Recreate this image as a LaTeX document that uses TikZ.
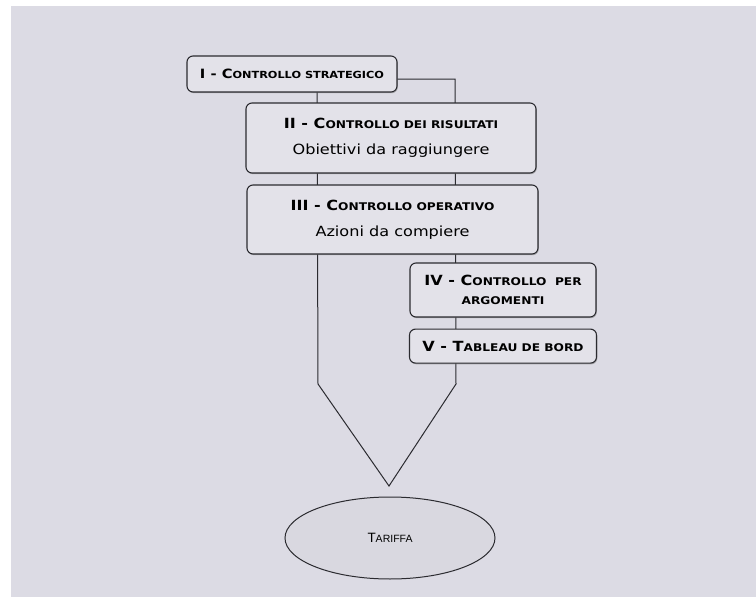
\documentclass[tikz,border=0pt]{standalone}
\usepackage{fontspec}
\setmainfont{DejaVu Sans}[FakeStretch=1.15]
\newfontfamily\arialfont{Liberation Sans}
\usetikzlibrary{positioning,shapes.geometric,shadows}
\definecolor{scanbg}{HTML}{DCDBE4}
\definecolor{boxbg}{HTML}{E3E2E9}
\definecolor{ovalbg}{HTML}{D9D8E0}
\definecolor{edgecol}{HTML}{2B2B30}
\newcommand{\sck}[1]{{\fontsize{10.6}{12}\selectfont #1}}
\newcommand{\scks}[1]{{\fontsize{9.8}{12}\selectfont #1}}

\begin{document}
\begin{tikzpicture}[x=1pt, y=-1pt, node distance=11pt]
        \tikzset{LevelStyle/.style = {draw=edgecol,
            line width = 1.1pt,
            rounded corners = 6pt,
            fill  = boxbg,
            align = center,
            inner sep = 0pt,
            font  = \fontsize{14}{19}\selectfont,
            drop shadow = {shadow xshift=0.8pt, shadow yshift=-1.2pt, opacity=0.55}}}
        \tikzset{PairStyle/.style = {LevelStyle,
            font  = \fontsize{14}{26}\selectfont}}
        \fill[white] (0,0) rectangle (756,597);
        \fill[scanbg] (11,6) rectangle (756,597);
        \useasboundingbox (0,0) rectangle (756,597);
        \coordinate (TL) at (317,79);
        \coordinate (TR) at (455,79);
        \coordinate (SR) at (456,384);
        \coordinate (TIP) at (389,486);
        \coordinate (SL) at (318,384);
        \draw[edgecol, line width=1pt, fill=scanbg] (TL) -- (TR) -- (SR) -- (TIP) -- (SL) -- cycle;
        \node[LevelStyle, minimum width=210pt, minimum height=36pt,
            font=\fontsize{12.8}{19}\selectfont] (CS) at (292,74)
            {\textbf{I - C\scks{ONTROLLO STRATEGICO}}};
        \node[PairStyle, minimum width=290pt, minimum height=70pt] (CR) at (391,138)
            {\textbf{II - C\sck{ONTROLLO DEI RISULTATI}}\\Obiettivi da raggiungere};
        \node[PairStyle, minimum width=291pt, minimum height=69pt] (CO) at (392.5,219.5)
            {\textbf{III - C\sck{ONTROLLO OPERATIVO}}\\Azioni da compiere};
        \node[LevelStyle, minimum width=186pt, minimum height=54pt] (CA) at (503,290)
            {\textbf{IV - C\sck{ONTROLLO\ \ PER}}\\\textbf{\sck{ARGOMENTI}}};
        \node[LevelStyle, minimum width=187pt, minimum height=34pt, below=11pt of CA] (TB)
            {\textbf{V - T\sck{ABLEAU DE BORD}}};
        \node[ellipse, draw=edgecol, line width=1pt, fill=ovalbg,
            minimum width=210pt, minimum height=82pt,
            font=\arialfont\fontsize{13.5}{15}\selectfont] (TAR) at (390,538)
            {T{\fontsize{10.5}{12}\selectfont ARIFFA}};
      \end{tikzpicture}
\end{document}
